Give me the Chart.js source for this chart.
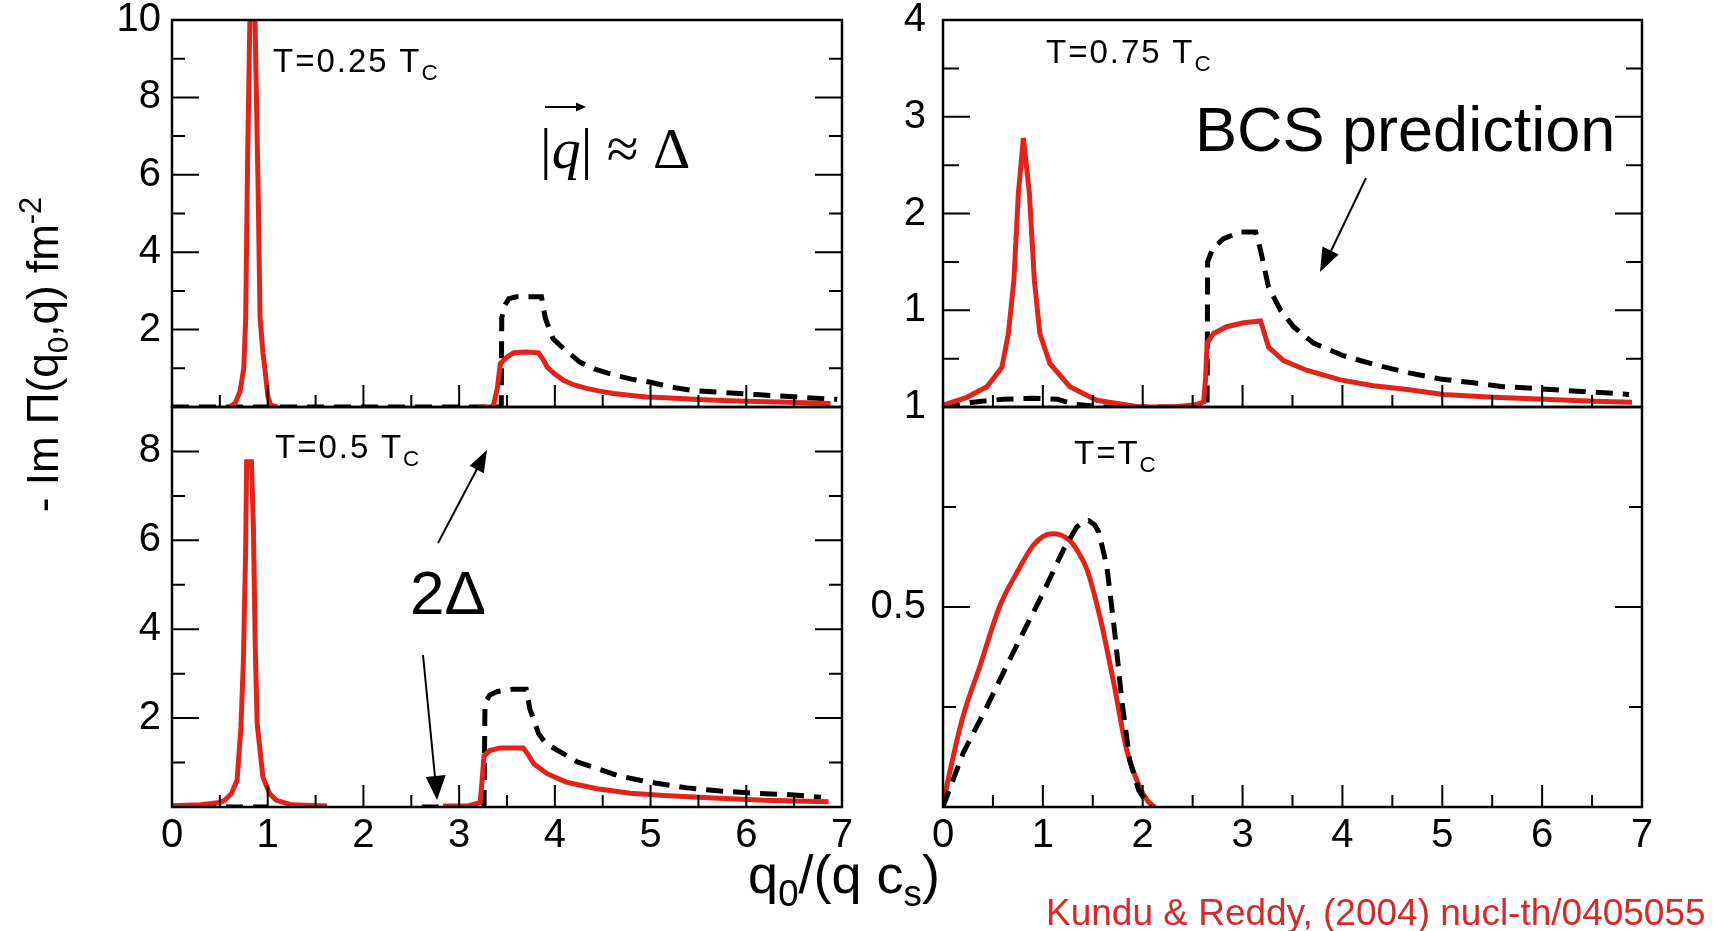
<!DOCTYPE html>
<html>
<head>
<meta charset="utf-8">
<script src="https://cdn.jsdelivr.net/npm/chart.js@4.4.1/dist/chart.umd.min.js"></script>
<style>
  body { margin: 0; background: #fff; }
  #page { position: relative; width: 1714px; height: 931px; overflow: hidden; font-family: "Liberation Sans", Arial, sans-serif; }
  #page canvas { position: absolute; left: 0; top: 0; }
  #page svg { position: absolute; left: 0; top: 0; }
  .txt { position: absolute; white-space: nowrap; line-height: 1; color: #000; }
  .sb { font-size: 0.68em; position: relative; top: 0.35em; }
  .sp { font-size: 0.7em; position: relative; top: -0.55em; }
  .lab { font-size: 33px; letter-spacing: 2px; }
</style>
</head>
<body>
<div id="page">
  <canvas id="tl" width="1714" height="931"></canvas>
  <canvas id="bl" width="1714" height="931"></canvas>
  <canvas id="tr" width="1714" height="931"></canvas>
  <canvas id="br" width="1714" height="931"></canvas>

  <svg width="1714" height="931">
    <g stroke="#000" stroke-width="2" fill="none">
      <line x1="1366" y1="178" x2="1331" y2="251"/>
      <line x1="438" y1="543" x2="477" y2="469"/>
      <line x1="423" y1="655" x2="435" y2="777"/>
      <line x1="545" y1="107" x2="578" y2="107"/>
    </g>
    <g fill="#000">
      <polygon points="1320,272 1338.7,254.4 1322.5,246.4"/>
      <polygon points="487,450 483.8,473.2 469.7,465.8"/>
      <polygon points="437,800 445.7,775.0 425.7,777.0"/>
      <polygon points="586,107 576,102.5 576,111.5"/>
    </g>
  </svg>

  <div class="txt lab" style="left:273px; top:44px;">T=0.25 T<span class="sb">C</span></div>
  <div class="txt lab" style="left:1046px; top:35px;">T=0.75 T<span class="sb">C</span></div>
  <div class="txt lab" style="left:275px; top:430px;">T=0.5 T<span class="sb">C</span></div>
  <div class="txt lab" style="left:1074px; top:436px;">T=T<span class="sb">C</span></div>

  <div class="txt" style="left:1195px; top:98px; font-size:63px;">BCS prediction</div>
  <div class="txt" style="left:410px; top:562px; font-size:62px;">2Δ</div>
  <div class="txt" style="left:540px; top:120px; font-size:58px; font-family:'Liberation Serif','Times New Roman',serif;">|<i>q</i>| ≈ Δ</div>

  <div class="txt" style="left:-155px; top:325px; width:400px; text-align:center; font-size:44px; line-height:54px; transform:rotate(-90deg);">- Im Π(q<span class="sb">0</span>,q) fm<span class="sp">-2</span></div>
  <div class="txt" style="left:644px; top:847px; width:400px; text-align:center; font-size:54px;">q<span class="sb">0</span>/(q c<span class="sb">s</span>)</div>
  <div class="txt" style="left:1046px; top:894px; font-size:37px; color:#d42a2a;">Kundu &amp; Reddy, (2004) nucl-th/0405055</div>
</div>

<script>
// shared x axis: q0/(q cs)
const xLabelVals = [0, 1, 2, 3, 4, 5, 6, 7];
const xMajorTicks = [1, 2, 3, 4, 5, 6];
const xMinorTicks = [0.5, 1.5, 2.5, 3.5, 4.5, 5.5, 6.5];

// T = 0.25 Tc (top left)
const tlYLabels = [2, 4, 6, 8, 10];
const tlYMajor = [2, 4, 6, 8];
const tlYMinor = [1, 3, 5, 7, 9];
const tlRedX = [0.60, 0.66, 0.71, 0.75, 0.77, 0.79, 0.82, 0.86, 0.90, 0.92, 0.95, 0.97, 1.00, 1.03, 1.10, 2.00, 3.20, 3.33, 3.36, 3.40, 3.43, 3.50, 3.57, 3.70, 3.83, 3.88, 3.92, 4.00, 4.09, 4.20, 4.33, 4.47, 4.61, 4.80, 4.96, 5.15, 5.31, 5.55, 5.83, 6.10, 6.35, 6.60, 6.88];
const tlRedY = [0, 0.1, 0.4, 1.0, 2.3, 6.4, 11, 11, 5.6, 2.3, 1.4, 1.0, 0.3, 0.05, 0, null, 0, 0, 0.05, 0.5, 1.12, 1.29, 1.40, 1.42, 1.40, 1.22, 1.03, 0.85, 0.69, 0.57, 0.48, 0.41, 0.35, 0.30, 0.26, 0.24, 0.22, 0.19, 0.16, 0.145, 0.13, 0.11, 0.09];
const tlBcsX = [0, 3.44, 3.445, 3.47, 3.52, 3.60, 3.86, 3.90, 3.98, 4.09, 4.26, 4.42, 4.61, 4.80, 5.00, 5.20, 5.45, 5.80, 6.10, 6.45, 6.85, 6.95];
const tlBcsY = [0, 0, 2.3, 2.6, 2.80, 2.85, 2.85, 2.3, 1.77, 1.51, 1.16, 0.98, 0.83, 0.72, 0.64, 0.52, 0.42, 0.37, 0.32, 0.27, 0.21, 0.20];

// T = 0.5 Tc (bottom left)
const blYLabels = [2, 4, 6, 8];
const blYMajor = [2, 4, 6, 8];
const blYMinor = [1, 3, 5, 7];
const blRedX = [0.00, 0.30, 0.50, 0.55, 0.62, 0.68, 0.72, 0.745, 0.77, 0.78, 0.83, 0.85, 0.87, 0.89, 0.95, 1.02, 1.09, 1.25, 1.62, 2.20, 2.83, 3.10, 3.22, 3.24, 3.26, 3.32, 3.43, 3.67, 3.72, 3.78, 3.92, 4.12, 4.44, 4.79, 5.14, 5.66, 6.18, 6.86];
const blRedY = [0.03, 0.05, 0.1, 0.15, 0.3, 0.6, 1.79, 3.22, 5.83, 7.77, 7.77, 6.35, 3.59, 1.87, 0.67, 0.3, 0.15, 0.05, 0.02, null, 0.02, 0.03, 0.1, 0.6, 1.15, 1.27, 1.33, 1.33, 1.18, 0.97, 0.75, 0.56, 0.41, 0.31, 0.26, 0.2, 0.15, 0.12];
const blBcsX = [0, 1.0, 1.5, 2.61, 2.82, 3.0, 3.26, 3.27, 3.32, 3.40, 3.56, 3.70, 3.74, 3.83, 3.91, 4.12, 4.24, 4.45, 4.65, 4.85, 5.05, 5.38, 5.73, 6.07, 6.42, 6.67, 6.78];
const blBcsY = [0, 0, null, 0, 0, null, 0, 2.35, 2.52, 2.60, 2.65, 2.65, 2.2, 1.65, 1.42, 1.16, 1.01, 0.86, 0.71, 0.62, 0.54, 0.43, 0.36, 0.31, 0.28, 0.24, 0.22];

// T = 0.75 Tc (top right)
const trYLabels = [1, 2, 3, 4];
const trYMajor = [1, 2, 3];
const trYMinor = [0.5, 1.5, 2.5, 3.5];
const trRedX = [0, 0.24, 0.44, 0.59, 0.655, 0.71, 0.755, 0.805, 0.865, 0.915, 0.97, 1.07, 1.27, 1.54, 1.84, 1.97, 2.30, 2.51, 2.61, 2.63, 2.645, 2.71, 2.84, 3.01, 3.18, 3.26, 3.41, 3.64, 3.98, 4.31, 4.65, 5.01, 5.51, 6.02, 6.52, 6.90];
const trRedY = [0.02, 0.10, 0.21, 0.41, 0.76, 1.31, 2.21, 2.78, 2.21, 1.31, 0.76, 0.45, 0.21, 0.07, 0.02, 0, 0, 0.02, 0.05, 0.3, 0.66, 0.76, 0.83, 0.87, 0.89, 0.62, 0.48, 0.38, 0.28, 0.22, 0.18, 0.13, 0.10, 0.08, 0.06, 0.05];
const trBcsX = [0, 0.3, 0.6, 0.9, 1.15, 1.3, 1.6, 2.0, 2.4, 2.645, 2.65, 2.70, 2.81, 2.98, 3.13, 3.16, 3.18, 3.26, 3.38, 3.51, 3.71, 4.01, 4.35, 4.68, 4.98, 5.31, 5.61, 5.95, 6.25, 6.58, 6.87];
const trBcsY = [0, 0.05, 0.08, 0.09, 0.08, 0.03, 0, 0, 0, 0, 1.5, 1.64, 1.74, 1.81, 1.81, 1.70, 1.62, 1.24, 1.0, 0.83, 0.66, 0.53, 0.43, 0.35, 0.29, 0.25, 0.21, 0.19, 0.17, 0.15, 0.13];

// T = Tc (bottom right)
const brYLabels = [0.5, 1];
const brYMajor = [0.5];
const brYMinor = [0.25, 0.75];
const brRedX = [0, 0.07, 0.20, 0.37, 0.57, 0.74, 0.90, 1.00, 1.09, 1.18, 1.27, 1.36, 1.44, 1.57, 1.71, 1.84, 1.97, 2.05, 2.12];
const brRedY = [0.004, 0.09, 0.226, 0.352, 0.503, 0.586, 0.653, 0.676, 0.683, 0.68, 0.666, 0.635, 0.595, 0.477, 0.31, 0.142, 0.05, 0.015, 0];
const brBcsX = [0, 0.20, 0.44, 0.70, 0.97, 1.21, 1.34, 1.40, 1.46, 1.52, 1.56, 1.64, 1.72, 1.79, 1.87, 1.96, 2.07];
const brBcsY = [0, 0.134, 0.251, 0.385, 0.519, 0.645, 0.70, 0.712, 0.716, 0.705, 0.687, 0.603, 0.436, 0.268, 0.117, 0.042, 0];

const RED = '#e2231a';
const tickFont = { family: "'Liberation Sans', Arial, sans-serif", size: 40 };

const pts = (xs, ys) => xs.map((x, i) => ({ x: x, y: ys[i] }));

function redLine(xs, ys, smooth) {
  return { data: pts(xs, ys), borderColor: RED, borderWidth: 5, pointRadius: 0, fill: false,
           cubicInterpolationMode: smooth ? 'monotone' : 'default', tension: 0 };
}
function bcsLine(xs, ys) {
  return { data: pts(xs, ys), borderColor: '#000', borderWidth: 5, borderDash: [17, 10], pointRadius: 0, fill: false, tension: 0 };
}

// frame + inward tick marks, drawn on top of the curves
function frameTicks(t) {
  return {
    id: 'frameTicks',
    afterDatasetsDraw(chart) {
      const ctx = chart.ctx, a = chart.chartArea;
      const x = chart.scales.x, y = chart.scales.y;
      ctx.save();
      ctx.strokeStyle = '#000';
      ctx.lineWidth = 2;
      ctx.beginPath();
      xMajorTicks.forEach(v => { const p = x.getPixelForValue(v); ctx.moveTo(p, a.bottom); ctx.lineTo(p, a.bottom - 22); });
      xMinorTicks.forEach(v => { const p = x.getPixelForValue(v); ctx.moveTo(p, a.bottom); ctx.lineTo(p, a.bottom - 12); });
      t.major.forEach(v => {
        const p = y.getPixelForValue(v);
        ctx.moveTo(a.left, p); ctx.lineTo(a.left + 27, p);
        ctx.moveTo(a.right, p); ctx.lineTo(a.right - 27, p);
      });
      t.minor.forEach(v => {
        const p = y.getPixelForValue(v);
        ctx.moveTo(a.left, p); ctx.lineTo(a.left + t.minLen, p);
        ctx.moveTo(a.right, p); ctx.lineTo(a.right - t.minLen, p);
      });
      ctx.stroke();
      ctx.lineWidth = 2.5;
      ctx.strokeRect(a.left, a.top, a.right - a.left, a.bottom - a.top);
      ctx.restore();
    }
  };
}

function panel(id, box, yMax, yLabels, tk, datasets, showX) {
  const yw = 100;
  const xh = showX ? 60 : 0;
  return new Chart(document.getElementById(id), {
    type: 'line',
    data: { datasets: datasets },
    options: {
      responsive: false,
      animation: false,
      events: [],
      layout: { padding: { left: box.l - yw, top: box.t, right: 1714 - box.r, bottom: 931 - box.b - xh } },
      plugins: { legend: { display: false }, tooltip: { enabled: false } },
      scales: {
        x: {
          type: 'linear', min: 0, max: 7,
          grid: { display: false, drawTicks: false },
          border: { display: false },
          ticks: { display: showX, padding: 5, color: '#000', font: tickFont, maxRotation: 0, autoSkip: false,
                   callback: v => String(v) },
          afterBuildTicks: s => { s.ticks = xLabelVals.map(v => ({ value: v })); },
          afterFit: s => { s.height = xh; s.paddingLeft = 0; s.paddingRight = 0; }
        },
        y: {
          type: 'linear', min: 0, max: yMax,
          grid: { display: false, drawTicks: false },
          border: { display: false },
          ticks: { padding: box.pad, color: '#000', font: tickFont, autoSkip: false, callback: v => String(v) },
          afterBuildTicks: s => { s.ticks = yLabels.map(v => ({ value: v })); },
          afterFit: s => { s.width = yw; s.paddingTop = 0; s.paddingBottom = 0; }
        }
      }
    },
    plugins: [frameTicks(tk)]
  });
}

panel('tl', { l: 172, t: 20, r: 842, b: 407, pad: 11 }, 10, tlYLabels,
      { major: tlYMajor, minor: tlYMinor, minLen: 13 },
      [redLine(tlRedX, tlRedY), bcsLine(tlBcsX, tlBcsY)], false);

panel('bl', { l: 172, t: 407, r: 842, b: 807, pad: 11 }, 9, blYLabels,
      { major: blYMajor, minor: blYMinor, minLen: 13 },
      [redLine(blRedX, blRedY), bcsLine(blBcsX, blBcsY)], true);

panel('tr', { l: 943, t: 20, r: 1642, b: 407, pad: 17 }, 4, trYLabels,
      { major: trYMajor, minor: trYMinor, minLen: 16 },
      [redLine(trRedX, trRedY), bcsLine(trBcsX, trBcsY)], false);

panel('br', { l: 943, t: 407, r: 1642, b: 807, pad: 17 }, 1, brYLabels,
      { major: brYMajor, minor: brYMinor, minLen: 13 },
      [bcsLine(brBcsX, brBcsY), redLine(brRedX, brRedY, true)], true);
</script>
</body>
</html>
